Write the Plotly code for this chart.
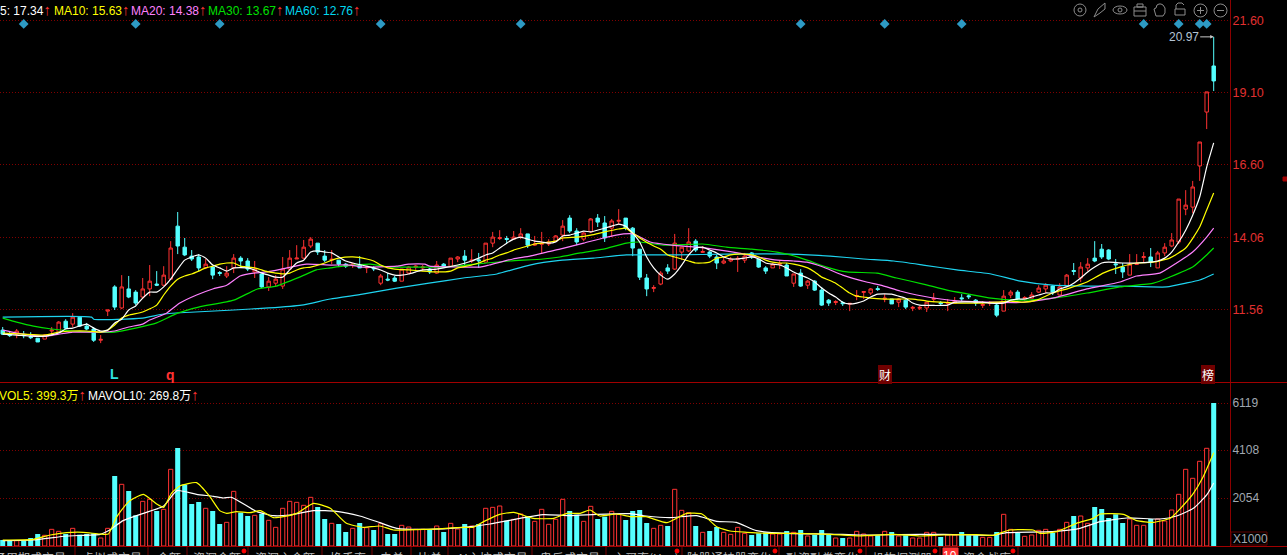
import plotly.graph_objects as go
from plotly.subplots import make_subplots

# daily prices, oldest first
open_ = [10.84, 10.70, 10.70, 10.68, 10.61, 10.56, 10.53, 10.81, 10.77, 11.15, 11.05, 11.29, 10.98, 10.88, 10.49, 11.50,
         12.34, 11.61, 12.27, 12.16, 11.99, 12.27, 12.44, 12.40, 12.61, 14.45, 13.72, 13.41, 13.38, 13.00, 13.03, 12.84,
         12.72, 13.00, 13.34, 13.24, 12.86, 12.79, 12.34, 12.47, 12.37, 12.96, 13.31, 13.34, 13.76, 13.86, 13.41, 13.27,
         13.27, 13.13, 13.10, 13.10, 13.00, 13.00, 12.47, 12.61, 12.65, 12.54, 12.82, 13.03, 13.00, 12.96, 12.82, 13.13,
         13.06, 13.31, 13.41, 13.24, 13.28, 13.20, 13.86, 14.02, 14.02, 14.00, 14.07, 14.18, 13.79, 13.82, 13.83, 13.93,
         14.14, 14.73, 14.28, 14.00, 14.25, 14.73, 14.56, 14.38, 14.62, 14.73, 14.38, 13.65, 12.65, 12.29, 12.44, 13.00,
         12.96, 13.55, 13.59, 13.93, 13.54, 13.55, 13.38, 13.17, 13.24, 13.30, 13.27, 13.52, 13.31, 13.00, 13.00, 13.12,
         13.10, 12.47, 12.82, 12.40, 12.54, 12.23, 11.88, 11.80, 11.79, 11.74, 12.01, 12.15, 12.13, 12.28, 11.92, 11.92,
         11.81, 11.88, 11.60, 11.60, 11.61, 11.91, 11.79, 11.77, 11.78, 11.96, 12.03, 11.88, 11.70, 11.77, 11.71, 11.50,
         12.06, 12.16, 11.94, 11.95, 12.16, 12.27, 12.37, 12.06, 12.37, 12.91, 12.65, 13.00, 13.34, 13.65, 13.62, 13.14,
         13.03, 12.75, 13.12, 13.36, 13.38, 13.00, 13.52, 13.76, 13.90, 15.04, 15.11, 16.54, 18.41, 20.01]
high = [10.95, 10.81, 10.88, 10.81, 10.77, 10.56, 10.70, 10.95, 11.15, 11.22, 11.43, 11.33, 11.09, 10.95, 10.67, 11.54,
        12.40, 12.75, 12.72, 12.23, 12.65, 13.10, 12.89, 13.06, 13.93, 14.94, 14.04, 13.62, 13.48, 13.31, 13.06, 12.89,
        13.06, 13.48, 13.41, 13.34, 13.24, 12.79, 12.68, 12.75, 13.38, 13.62, 13.79, 13.97, 14.07, 13.86, 13.62, 13.62,
        13.27, 13.17, 13.17, 13.41, 13.06, 13.06, 12.79, 12.82, 12.72, 12.96, 13.06, 13.10, 13.10, 13.00, 13.24, 13.17,
        13.34, 13.41, 13.62, 13.65, 13.52, 13.86, 14.25, 14.31, 14.11, 14.28, 14.38, 14.18, 14.11, 14.25, 14.00, 14.14,
        14.66, 14.83, 14.38, 14.25, 14.73, 14.87, 14.80, 14.70, 15.04, 14.73, 14.42, 13.65, 12.79, 12.40, 12.89, 13.13,
        14.18, 13.72, 14.38, 14.00, 13.76, 13.59, 13.45, 13.38, 13.38, 13.41, 13.52, 13.55, 13.31, 13.06, 13.17, 13.27,
        13.17, 12.79, 12.96, 12.58, 12.58, 12.34, 11.92, 11.88, 11.85, 11.78, 12.23, 12.20, 12.30, 12.37, 12.09, 11.92,
        11.95, 11.92, 11.68, 11.68, 11.81, 12.13, 11.85, 11.92, 11.99, 12.09, 12.09, 11.92, 11.85, 11.85, 11.75, 12.23,
        12.23, 12.23, 12.02, 12.16, 12.40, 12.47, 12.40, 12.47, 12.79, 13.17, 13.20, 13.34, 13.93, 13.83, 13.65, 13.31,
        13.17, 13.48, 13.48, 13.55, 13.69, 13.59, 13.86, 14.21, 15.39, 15.70, 16.02, 17.37, 19.11, 21.02]
low = [10.67, 10.60, 10.56, 10.56, 10.53, 10.43, 10.53, 10.63, 10.74, 10.88, 10.95, 10.95, 10.84, 10.43, 10.39, 11.33,
       11.54, 11.57, 11.95, 11.71, 11.92, 12.02, 12.37, 12.37, 12.61, 13.48, 13.41, 13.24, 12.89, 12.96, 12.61, 12.72,
       12.65, 12.82, 13.00, 12.89, 12.65, 12.30, 12.20, 12.37, 12.27, 12.93, 13.31, 13.31, 13.69, 13.45, 13.20, 13.13,
       13.03, 13.00, 13.00, 13.00, 12.82, 12.89, 12.40, 12.54, 12.51, 12.54, 12.79, 12.93, 12.89, 12.79, 12.79, 13.00,
       13.06, 13.20, 13.10, 13.17, 13.00, 13.20, 13.72, 13.97, 13.86, 14.00, 14.00, 13.69, 13.76, 13.52, 13.76, 13.90,
       13.93, 14.21, 13.79, 13.93, 14.21, 14.42, 13.90, 14.07, 14.52, 14.31, 13.41, 12.58, 12.02, 12.16, 12.40, 12.79,
       12.93, 13.27, 13.55, 13.55, 13.52, 13.34, 12.96, 13.13, 13.20, 12.86, 13.17, 13.31, 13.00, 12.79, 13.00, 12.96,
       12.72, 12.34, 12.34, 12.27, 12.20, 11.68, 11.68, 11.71, 11.68, 11.50, 11.88, 11.92, 12.06, 12.20, 11.81, 11.75,
       11.64, 11.57, 11.50, 11.54, 11.47, 11.81, 11.68, 11.50, 11.78, 11.85, 11.92, 11.68, 11.61, 11.68, 11.29, 11.50,
       11.95, 11.88, 11.85, 11.95, 12.13, 12.13, 12.06, 12.06, 12.34, 12.75, 12.51, 12.89, 13.20, 13.31, 13.27, 12.79,
       12.65, 12.75, 13.10, 13.20, 13.03, 13.00, 13.41, 13.72, 13.83, 14.83, 14.90, 16.02, 17.82, 19.14]
close = [10.70, 10.65, 10.81, 10.65, 10.58, 10.43, 10.67, 10.84, 11.12, 10.91, 11.29, 10.98, 10.88, 10.49, 10.52, 11.54,
         11.64, 12.34, 11.99, 11.78, 12.27, 12.54, 12.40, 12.75, 13.69, 13.76, 13.45, 13.31, 13.00, 13.13, 12.75, 12.81,
         12.82, 13.34, 13.24, 12.96, 12.96, 12.34, 12.54, 12.61, 12.96, 13.34, 13.34, 13.72, 14.00, 13.55, 13.27, 13.30,
         13.13, 13.06, 13.13, 13.00, 13.03, 12.97, 12.72, 12.58, 12.54, 12.96, 13.03, 13.06, 13.03, 12.86, 13.10, 13.03,
         13.34, 13.38, 13.27, 13.27, 13.25, 13.86, 14.07, 14.05, 13.99, 14.07, 14.18, 13.79, 13.83, 13.85, 13.90, 14.11,
         14.45, 14.28, 13.90, 14.21, 14.70, 14.59, 14.04, 14.63, 14.65, 14.38, 13.69, 12.68, 12.27, 12.32, 12.82, 12.89,
         13.86, 13.72, 13.90, 13.62, 13.57, 13.41, 13.17, 13.24, 13.31, 13.33, 13.41, 13.38, 13.03, 12.89, 13.13, 13.15,
         12.72, 12.79, 12.37, 12.54, 12.23, 11.71, 11.78, 11.83, 11.76, 11.77, 12.04, 12.18, 12.27, 12.25, 11.95, 11.75,
         11.92, 11.64, 11.63, 11.63, 11.81, 11.94, 11.76, 11.80, 11.85, 11.93, 12.00, 11.78, 11.73, 11.80, 11.36, 12.02,
         12.16, 11.92, 11.97, 12.06, 12.30, 12.40, 12.16, 12.34, 12.75, 12.88, 13.03, 13.13, 13.24, 13.38, 13.31, 13.11,
         12.86, 13.13, 13.15, 13.39, 13.20, 13.52, 13.72, 13.97, 15.39, 15.18, 15.81, 17.37, 19.11, 19.49]

# volume, in thousands of shares
volume = [257, 228, 228, 228, 342, 514, 457, 713, 628, 514, 756, 485, 514, 542, 342, 756, 2997, 2640, 2355, 1313, 1912,
          1998, 1498, 1570, 3282, 4195, 2626, 1798, 1884, 1613, 1498, 942, 1013, 2340, 1427, 1284, 1313, 1370, 1099, 799,
          1613, 1912, 1869, 1741, 2083, 1670, 1156, 970, 942, 599, 756, 985, 785, 685, 956, 514, 514, 885, 813, 713, 713,
          685, 856, 599, 970, 728, 942, 856, 942, 1613, 1655, 1712, 1085, 1142, 1370, 1284, 1056, 1570, 928, 1142, 1998,
          1498, 1341, 1056, 1698, 1156, 1256, 1484, 1356, 1113, 1498, 1541, 985, 756, 885, 856, 2426, 1527, 1427, 856,
          585, 642, 813, 585, 499, 799, 542, 471, 542, 585, 514, 514, 642, 585, 685, 428, 471, 685, 471, 342, 342, 342,
          628, 514, 428, 457, 628, 599, 428, 457, 342, 342, 585, 585, 385, 471, 471, 599, 457, 457, 371, 371, 599, 1356,
          713, 557, 414, 471, 671, 713, 557, 713, 1013, 1284, 1284, 970, 1670, 1584, 1199, 1356, 985, 1156, 885, 885,
          1156, 1156, 1070, 1541, 2212, 3282, 2897, 3625, 4181, 6119]

# moving averages, read at the candles where the line could be made out
ma5_k = [0, 2, 4, 6, 8, 9, 10, 12, 13, 14, 15, 16, 17, 18, 19, 20, 21, 22, 23, 24, 25, 26, 27, 28, 29, 30, 31, 32, 33, 35,
         36, 37, 38, 39, 40, 41, 42, 43, 44, 45, 46, 47, 48, 49, 50, 52, 53, 54, 55, 56, 57, 58, 59, 60, 62, 63, 65, 67,
         68, 69, 70, 71, 72, 73, 74, 75, 76, 77, 78, 79, 80, 81, 83, 84, 86, 87, 88, 89, 90, 91, 92, 93, 94, 95, 96, 97,
         98, 99, 100, 101, 102, 103, 104, 105, 106, 107, 108, 109, 110, 111, 112, 113, 114, 115, 116, 117, 118, 119,
         120, 121, 122, 123, 124, 125, 127, 128, 129, 130, 131, 135, 136, 140, 141, 143, 144, 145, 146, 147, 148, 149,
         150, 151, 152, 153, 154, 155, 156, 157, 158, 160, 162, 164, 165, 166, 167, 168, 169, 170, 171, 172, 173]
ma5 = [10.70, 10.67, 10.63, 10.63, 10.74, 10.88, 10.91, 11.05, 10.91, 10.81, 10.84, 11.09, 11.22, 11.54, 11.68, 11.95,
       12.16, 12.16, 12.34, 12.61, 12.96, 13.27, 13.38, 13.45, 13.34, 13.10, 13.00, 12.89, 13.00, 13.00, 12.93, 12.82,
       12.75, 12.68, 12.68, 12.93, 13.17, 13.27, 13.55, 13.59, 13.55, 13.52, 13.38, 13.24, 13.17, 13.06, 13.00, 12.93,
       12.82, 12.75, 12.75, 12.79, 12.86, 12.93, 12.96, 13.00, 13.10, 13.24, 13.34, 13.45, 13.52, 13.69, 13.86, 14.00,
       14.07, 14.00, 13.93, 13.90, 13.86, 13.90, 14.11, 14.14, 14.28, 14.25, 14.38, 14.45, 14.52, 14.45, 14.21, 13.90,
       13.38, 13.00, 12.75, 12.61, 12.79, 13.10, 13.45, 13.69, 13.72, 13.62, 13.52, 13.38, 13.31, 13.31, 13.34, 13.38,
       13.31, 13.17, 13.13, 13.10, 13.00, 12.86, 12.75, 12.65, 12.51, 12.30, 12.13, 11.99, 11.81, 11.75, 11.78, 11.85,
       11.99, 12.09, 12.09, 12.02, 11.95, 11.78, 11.71, 11.71, 11.81, 11.81, 11.78, 11.78, 11.88, 11.92, 11.92, 11.99,
       12.06, 12.13, 12.13, 12.27, 12.34, 12.47, 12.65, 12.86, 13.03, 13.17, 13.20, 13.17, 13.17, 13.20, 13.24, 13.34,
       13.55, 13.90, 14.31, 14.83, 15.46, 16.50, 17.34]

ma10_k = [0, 3, 6, 8, 10, 12, 14, 15, 16, 17, 18, 20, 22, 23, 24, 25, 26, 27, 28, 29, 30, 31, 32, 33, 34, 35, 36, 37, 38,
          39, 40, 41, 42, 43, 44, 46, 47, 48, 50, 52, 53, 54, 55, 56, 58, 60, 62, 64, 65, 67, 68, 69, 70, 71, 72, 73, 74,
          75, 76, 77, 78, 79, 80, 82, 84, 86, 88, 89, 90, 91, 93, 94, 95, 96, 97, 98, 99, 100, 101, 102, 103, 104, 105,
          106, 107, 108, 109, 110, 111, 112, 113, 115, 116, 117, 118, 119, 120, 121, 122, 123, 124, 126, 128, 130, 132,
          134, 136, 138, 140, 142, 144, 146, 147.7, 150, 152.4, 154.9, 157.2, 159.6, 162, 164.4, 166.7, 169, 171, 172, 173]
ma10 = [10.74, 10.70, 10.67, 10.77, 10.81, 10.81, 10.77, 10.84, 11.02, 11.26, 11.36, 11.47, 11.71, 12.06, 12.37, 12.61,
        12.72, 12.79, 12.89, 13.00, 13.06, 13.13, 13.17, 13.17, 13.06, 13.03, 13.00, 12.93, 12.86, 12.82, 12.79, 12.82,
        12.93, 13.00, 13.03, 13.17, 13.27, 13.34, 13.38, 13.31, 13.24, 13.10, 13.00, 12.96, 12.93, 12.89, 12.86, 12.89,
        13.00, 13.10, 13.17, 13.27, 13.34, 13.45, 13.52, 13.62, 13.69, 13.76, 13.83, 13.86, 13.90, 13.93, 14.04, 14.07,
        14.14, 14.25, 14.35, 14.38, 14.21, 14.04, 13.76, 13.65, 13.45, 13.38, 13.31, 13.24, 13.17, 13.17, 13.20, 13.34,
        13.38, 13.45, 13.48, 13.48, 13.45, 13.38, 13.27, 13.20, 13.17, 13.17, 13.13, 13.00, 12.86, 12.68, 12.58, 12.47,
        12.30, 12.13, 12.02, 11.99, 11.95, 11.92, 11.92, 11.92, 11.85, 11.81, 11.78, 11.78, 11.78, 11.81, 11.85, 11.81,
        11.88, 12.13, 12.30, 12.51, 12.82, 13.03, 13.17, 13.20, 13.34, 13.69, 14.42, 15.01, 15.60]

ma20_k = [0, 2, 4, 6, 8, 10, 12, 14, 16, 18, 20, 21, 23.4, 25.3, 27.7, 30, 32, 33.9, 35.8, 37.7, 40.6, 43.4, 46.8, 49.6,
          51.4, 56.3, 58, 60.3, 61, 65.8, 68.2, 69.5, 72.9, 75.3, 77.7, 79.6, 83, 85.8, 88.7, 90.1, 92.5, 95.6, 99.2,
          102.5, 105, 107.8, 110.7, 113, 114.9, 117.2, 120, 123.4, 125.4, 128.2, 130.6, 134, 136.9, 141.2, 145.4, 150,
          154.9, 159.6, 162, 165.3, 167.7, 170, 172, 173]
ma20 = [10.84, 10.74, 10.67, 10.63, 10.70, 10.77, 10.77, 10.77, 10.81, 10.95, 11.05, 11.19, 11.43, 11.78, 12.06, 12.27,
        12.40, 12.72, 12.82, 12.86, 13.00, 13.13, 13.10, 13.10, 13.03, 13.06, 13.13, 13.13, 13.06, 13.03, 13.03, 13.10,
        13.31, 13.41, 13.55, 13.65, 13.86, 14.04, 14.18, 14.18, 13.90, 13.79, 13.72, 13.62, 13.52, 13.38, 13.27, 13.24,
        13.20, 13.03, 12.75, 12.51, 12.40, 12.20, 12.06, 11.92, 11.85, 11.81, 11.80, 11.95, 12.27, 12.51, 12.72, 12.82,
        13.17, 13.55, 14.07, 14.38]

ma30_k = [0, 2, 4.4, 7, 10, 13, 16, 19, 22, 25, 28, 33, 36.4, 39.1, 42.4, 44.8, 46.8, 48.6, 52.5, 55.3, 59, 63.3, 69.1,
          72.5, 77.2, 79.6, 82.5, 85.8, 89.1, 91, 94.4, 100, 103.4, 107, 110.6, 112.5, 114.9, 117.7, 120.6, 124.9, 127.7,
          131.5, 134.9, 138, 141.2, 145.4, 150, 154.9, 159.6, 164.4, 166.7, 170, 172, 173]
ma30 = [11.26, 11.12, 10.98, 10.88, 10.81, 10.77, 10.77, 10.91, 11.09, 11.43, 11.64, 11.88, 12.27, 12.37, 12.68, 12.93,
        13.00, 13.06, 13.13, 13.03, 13.03, 13.03, 13.17, 13.24, 13.31, 13.38, 13.52, 13.65, 13.86, 13.90, 13.79, 13.83,
        13.72, 13.65, 13.55, 13.45, 13.27, 13.03, 12.86, 12.82, 12.65, 12.44, 12.23, 12.09, 11.95, 11.88, 11.95, 12.13,
        12.34, 12.47, 12.68, 13.03, 13.45, 13.69]

ma60_k = [0, 12.7, 13, 20, 23, 27.5, 33, 38, 42.7, 46.8, 51.4, 56.3, 60.9, 65.8, 70.6, 75.3, 79.6, 84.4, 89.1, 96.3, 103.4,
          112.5, 118.2, 123, 127.3, 131.5, 136.3, 141.2, 145.4, 150, 154.9, 159.6, 166.3, 169, 171, 173]
ma60 = [11.29, 11.29, 11.22, 11.26, 11.40, 11.47, 11.54, 11.61, 11.71, 11.92, 12.09, 12.30, 12.47, 12.65, 12.79, 13.10,
        13.26, 13.34, 13.45, 13.45, 13.48, 13.48, 13.41, 13.31, 13.24, 13.10, 12.93, 12.79, 12.54, 12.40, 12.37, 12.37,
        12.34, 12.47, 12.58, 12.79]

mavol5_k = [0, 4.4, 6.8, 9.1, 11.5, 13.9, 15.1, 16.3, 18, 20.1, 22, 23, 24.1, 25.3, 27.7, 29.6, 31, 32, 33.4, 35.3, 36.8,
            38.7, 40.1, 42, 44.4, 46.8, 49.1, 51.5, 53.9, 55.8, 60.6, 65.8, 67.2, 68.7, 71, 73, 75.8, 78.7, 80.6, 82.5,
            83.9, 85.3, 87.7, 89.6, 91.9, 94.9, 97.7, 99.9, 102, 103.9, 106.3, 109.2, 113.4, 118.2, 122.4, 127.2, 131,
            134.4, 139.1, 141.5, 143.9, 147.2, 148.2, 150.6, 153.4, 155.8, 156.8, 160.1, 162, 164.4, 166.8, 168.7, 170.1,
            171.5, 173]
mavol5 = [257, 285, 471, 571, 585, 514, 514, 1256, 1898, 2212, 1798, 1655, 2255, 2569, 2711, 2112, 1513, 1398, 1470, 1427,
          1513, 1213, 1256, 1398, 1827, 1613, 970, 799, 856, 685, 713, 799, 799, 1042, 1356, 1441, 1184, 1184, 1398, 1398,
          1541, 1284, 1370, 1256, 1256, 999, 1398, 1370, 828, 642, 585, 542, 542, 499, 428, 499, 428, 471, 485, 457, 685,
          685, 542, 614, 970, 1184, 1370, 1356, 1085, 1013, 1184, 1755, 2255, 2968, 3993]

mavol10_k = [0, 4.4, 9.1, 13.9, 15.3, 17.2, 20.1, 23, 24.9, 27.7, 30.1, 31.5, 32.7, 36.3, 38.7, 41, 44.4, 47.7, 51, 53.9,
             56.3, 60.6, 65.8, 69.6, 73.9, 77.2, 81, 84.8, 89.6, 91.9, 95.3, 99.1, 102, 104.8, 107.7, 111.9, 118.2, 122.4,
             128.2, 134.4, 141.5, 143.4, 150, 153.9, 156.8, 160.6, 165.3, 167.7, 170.1, 172, 173]
mavol10 = [228, 257, 428, 499, 685, 1085, 1398, 1712, 2369, 2212, 2126, 2055, 2083, 1470, 1299, 1327, 1513, 1484, 1284,
           999, 756, 713, 799, 942, 1184, 1341, 1299, 1356, 1384, 1284, 1213, 1299, 1056, 1013, 656, 542, 514, 471, 485,
           499, 457, 571, 614, 756, 1042, 1199, 1156, 1284, 1613, 2183, 2698]

event_k = [3, 19, 31, 54, 74, 114, 126, 137, 163, 168, 171, 172]

price_ticks = [21.60, 19.10, 16.60, 14.06, 11.56]
vol_ticks = [6119, 4108, 2054]

legend_price = [("5: 17.34", "#ffffff", 0), ("MA10: 15.63", "#ffff00", 54), ("MA20: 14.38", "#ff80ff", 131),
                ("MA30: 13.67", "#00e000", 208), ("MA60: 12.76", "#00d8f0", 285)]
legend_vol = [("VOL5: 399.3万", "#ffff00", -1), ("MAVOL10: 269.8万", "#ffffff", 88)]

tab_names = ["子周期成交量", "虚拟成交量", "金额", "资深金额", "资深主金额", "换手率", "电单", "比单", "AI主控成交量",
             "鬼反成交量", "主买率(Hsu)", "陆股通持股变化", "融资融券变化", "机构探测器", "资金战库"]
tab_left = [-6, 82, 157, 193, 255, 330, 380, 418, 457, 540, 613, 687, 786, 872, 963]
tab_seps = [75, 148, 187, 248, 322, 372, 411, 448, 532, 606, 682, 779, 866, 940, 1018]
tab_dots = [244, 677, 775, 860, 935, 1013]

RED = "#ff3232"
CYAN = "#54ffff"
GRID = "#800000"
AXIS = "#8b0000"
FONT = "Liberation Sans"

W, H, PLOT_W = 1287, 555, 1230
k = list(range(len(close)))


def X(px):
    return px / PLOT_W


def Y(py):
    return 1 - py / H


fig = make_subplots(rows=2, cols=1, shared_xaxes=True, vertical_spacing=0)

fig.add_trace(go.Candlestick(x=k, open=open_, high=high, low=low, close=close, whiskerwidth=0, hoverinfo="skip",
                             increasing=dict(line=dict(color=RED, width=1), fillcolor="#000000"),
                             decreasing=dict(line=dict(color=CYAN, width=1), fillcolor=CYAN)), row=1, col=1)

for xs, ys, color in [(ma60_k, ma60, "#1ed4f0"), (ma30_k, ma30, "#00e000"), (ma20_k, ma20, "#ff80ff"),
                      (ma10_k, ma10, "#ffff00"), (ma5_k, ma5, "#ffffff")]:
    fig.add_trace(go.Scatter(x=xs, y=ys, mode="lines", hoverinfo="skip",
                             line=dict(color=color, width=1.2, shape="spline", smoothing=0.5)), row=1, col=1)

fig.add_trace(go.Scatter(x=event_k, y=[21.47] * len(event_k), mode="markers", hoverinfo="skip",
                         marker=dict(symbol="diamond", size=7.5, color="#2e9ac4")), row=1, col=1)

up = [i for i in k if close[i] > open_[i]]
down = [i for i in k if close[i] <= open_[i]]
fig.add_trace(go.Bar(x=down, y=[volume[i] for i in down], width=0.72, hoverinfo="skip",
                     marker=dict(color=CYAN, line=dict(width=0))), row=2, col=1)
fig.add_trace(go.Bar(x=up, y=[volume[i] for i in up], width=0.6, hoverinfo="skip",
                     marker=dict(color="#000000", line=dict(color=RED, width=1))), row=2, col=1)

for xs, ys, color in [(mavol10_k, mavol10, "#ffffff"), (mavol5_k, mavol5, "#ffff00")]:
    fig.add_trace(go.Scatter(x=xs, y=ys, mode="lines", hoverinfo="skip",
                             line=dict(color=color, width=1.2, shape="spline", smoothing=0.5)), row=2, col=1)

annotations = []


def label(text, px, py, color="#b4b4b4", size=12, anchor="left", yanchor="middle", family=FONT, pad=0, **kw):
    annotations.append(dict(text=text, x=X(px), y=Y(py), xref="paper", yref="paper", showarrow=False, xanchor=anchor,
                            yanchor=yanchor, font=dict(family=family, size=size, color=color), borderpad=pad,
                            borderwidth=0, **kw))


arrow = '<span style="color:%s;font-size:15px">↑</span>' % RED
for text, color, px in legend_price:
    label(text + arrow, px, 9, color=color)
for text, color, px in legend_vol:
    label(text + arrow, px, 394, color=color, family="Liberation Sans, Noto Sans CJK SC")

label("<b>L</b>", 114, 374, color="#2fe0e0", size=14, anchor="center")
label("<b>q</b>", 170, 375, color=RED, size=14, anchor="center")
label("财", 885, 374, color="#ffffff", size=12, anchor="center", family="Noto Sans CJK SC", bgcolor="#700000", pad=1)
label("榜", 1208, 374, color="#ffffff", size=12, anchor="center", family="Noto Sans CJK SC", bgcolor="#700000", pad=1)

for name, px in zip(tab_names, tab_left):
    label(name, px, 549, color="#b8b8b8", yanchor="top", family="Noto Sans CJK SC")
label("10", 950.5, 549, color="#ffffff", anchor="center", yanchor="top")

annotations.append(dict(text="X1000", x=X(1231), y=Y(539), xref="paper", yref="paper", showarrow=False,
                        xanchor="left", yanchor="middle", font=dict(family=FONT, size=12, color="#a0a8b0")))

annotations.append(dict(text="20.97", x=173, y=21.02, xref="x", yref="y", ax=-30, ay=0, arrowcolor="#c8c8c8", arrowwidth=1,
                        arrowhead=2, arrowsize=0.7, standoff=0, font=dict(family=FONT, size=12, color="#b4c4d4")))

shapes = []


def shape(kind, x0, y0, x1, y1, color="#8c8c8c", fill=None, width=1):
    shapes.append(dict(type=kind, xref="paper", yref="paper", x0=X(x0), y0=Y(y0), x1=X(x1), y1=Y(y1),
                       line=dict(color=color, width=width), fillcolor=fill, layer="above"))


def path(pts, color="#8c8c8c"):
    d = "M " + " L ".join("%.5f %.5f" % (X(a), Y(b)) for a, b in pts)
    shapes.append(dict(type="path", xref="paper", yref="paper", path=d, line=dict(color=color, width=1), layer="above"))


# panel frame
shape("line", 0, 382.5, 1287, 382.5, color="#a00000")
shape("line", 0, 546.5, 1287, 546.5, color="#a00000")
shape("rect", 1231, 532, 1267, 545, color="#600000")
shape("rect", 1283, 177, 1287, 181, color="#a00000", fill="#a00000")

for px in tab_seps:
    shape("line", px, 547, px, 555, color="#7a0000")
for px in tab_dots:
    shape("circle", px - 2, 549, px + 2, 553, color="#ff0000", fill="#ff0000")
shape("rect", 943, 548, 958, 555, color="#ff3232", fill="#ff3232")

# toolbar icons
shape("circle", 1074, 4, 1086, 16)
shape("circle", 1078, 8, 1082, 12)
path([(1094, 17), (1098, 9), (1105, 3), (1105, 9), (1100, 13), (1094, 17)])
shape("circle", 1113, 6, 1127, 14)
shape("circle", 1118, 8, 1122, 12)
shape("rect", 1134, 7, 1146, 16)
shape("rect", 1137, 4, 1143, 7)
shape("line", 1134, 11, 1146, 11)
path([(1156, 16), (1154, 9), (1156, 8), (1157, 5), (1159, 4), (1161, 4), (1163, 5), (1165, 8), (1165, 13), (1163, 16), (1156, 16)])
shape("rect", 1175, 9, 1185, 15)
path([(1176, 9), (1176, 5), (1178, 3), (1182, 3), (1184, 5)])
shape("circle", 1194, 4, 1207, 17)
shape("line", 1197, 10.5, 1204, 10.5)
shape("line", 1200.5, 7, 1200.5, 14)
shape("circle", 1214, 4, 1227, 17)
shape("line", 1217, 10.5, 1224, 10.5)

fig.update_layout(width=W, height=H, margin=dict(l=0, r=W - PLOT_W, t=0, b=0), paper_bgcolor="#000000",
                  plot_bgcolor="#000000", showlegend=False, barmode="overlay", hovermode=False, dragmode=False,
                  annotations=annotations, shapes=shapes, font=dict(family=FONT))

fig.update_xaxes(range=[-0.386, 175.33], showgrid=False, zeroline=False, showticklabels=False, ticks="",
                 rangeslider_visible=False)
fig.update_yaxes(side="right", showgrid=True, griddash="1px,2px", gridcolor=GRID, gridwidth=1, zeroline=False, showline=True,
                 linecolor=AXIS, linewidth=1, ticks="", ticklabelstandoff=-1)
fig.update_yaxes(domain=[1 - 382 / H, 1], range=[9.04, 22.30], tickvals=price_ticks,
                 ticktext=["%.2f" % t for t in price_ticks], tickfont=dict(family=FONT, size=12.5, color="#e03030"),
                 row=1, col=1)
fig.update_yaxes(domain=[1 - 546 / H, 1 - 382 / H], range=[0, 7019], tickvals=vol_ticks,
                 ticktext=[str(t) for t in vol_ticks], tickfont=dict(family=FONT, size=12, color="#a0a8b0"),
                 row=2, col=1)

fig.write_html("out.html", config=dict(displayModeBar=False),
               post_script="document.body.style.margin='0';document.body.style.background='#000';document.body.style.overflow='hidden';")
